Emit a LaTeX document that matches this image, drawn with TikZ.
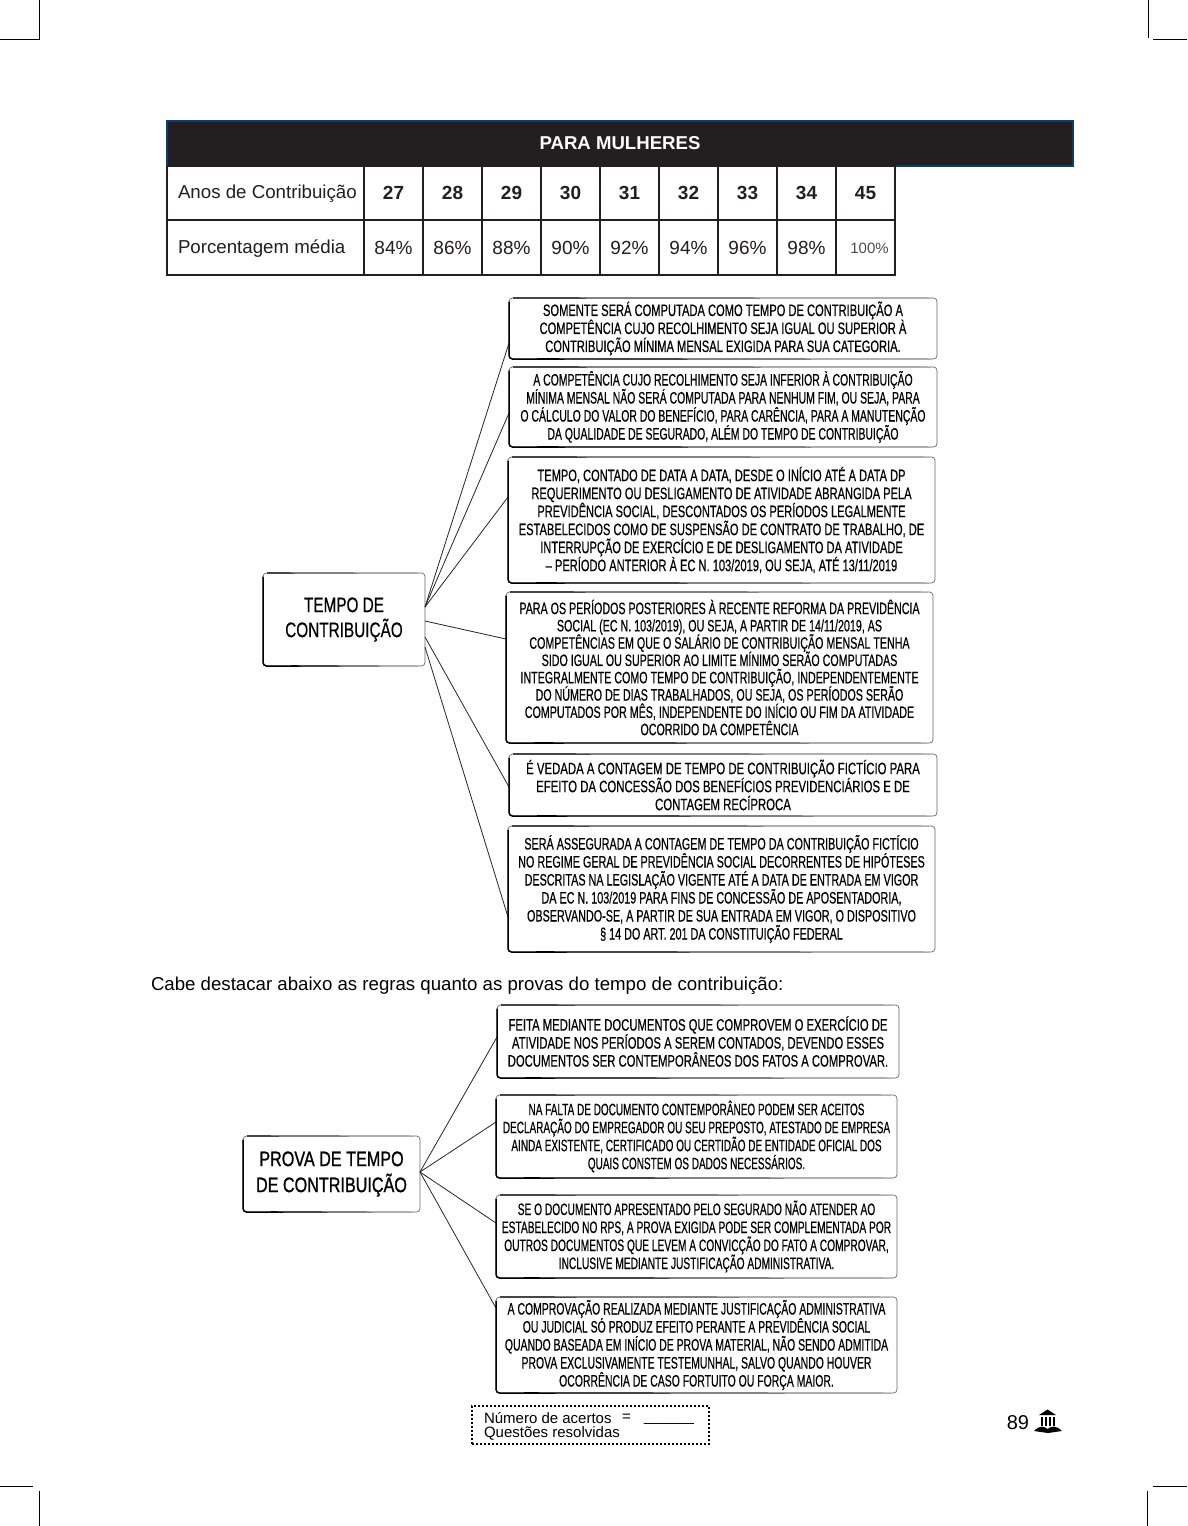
\documentclass[tikz,border=0pt]{standalone}
\usepackage{fontspec}
\usetikzlibrary{calc}
\setmainfont{Liberation Sans}
\definecolor{tblack}{HTML}{231F20}
\definecolor{tblue}{HTML}{0B3C78}
\tikzset{
  x=1pt,y=-1pt,
  boxbase/.style={draw=black!60,line width=.7pt,rounded corners=3.5pt,fill=white,inner sep=0pt,outer sep=0pt,align=center,text=black},
  comicbox/.style={boxbase,font={\fontspec[FakeStretch=#1,FakeBold=.4]{Liberation Sans}\fontsize{16.5}{18}\selectfont}},
  rootbox/.style={boxbase,font={\fontspec[FakeStretch=#1,FakeBold=.5]{Liberation Sans}\fontsize{21}{25}\selectfont}},
  link/.style={draw=black!85,line width=.8pt},
  cell/.style={draw=tblack,line width=2pt,inner sep=0pt,outer sep=0pt,align=center,font=\fontsize{19}{22}\selectfont,text=tblack},
  yearcell/.style={cell,minimum width=59pt,minimum height=54pt,font=\bfseries\fontsize{19}{22}\selectfont},
  pctcell/.style={cell,minimum width=59pt,minimum height=55pt},
  plain/.style={inner sep=0pt,outer sep=0pt,text=black},
  crop/.style={draw=black,line width=1pt},
  edge/.style={draw=black,line width=1.5pt,rounded corners=3.5pt,line cap=round}
}
\begin{document}
\begin{tikzpicture}
\useasboundingbox (0,0) rectangle (1187,1526);
\fill[white] (0,0) rectangle (1187,1526);
% crop marks
\draw[crop] (39,0)--(39,39)--(0,39);
\draw[crop] (1148,0)--(1148,38) (1153,39)--(1187,39);
\draw[crop] (39,1526)--(39,1491) (0,1486)--(33,1486);
\draw[crop] (1147,1526)--(1147,1491) (1153,1486)--(1187,1486);
% table
\node[draw=tblue,fill=tblack,line width=2pt,minimum width=906pt,minimum height=45pt,inner sep=0pt,outer sep=0pt,text=white,font=\bfseries\fontsize{18.6}{22}\selectfont] (head) at (620,143.5) {PARA MULHERES};
\node[cell,minimum width=197pt,minimum height=54pt] (anos) at (265.5,193) {};
\node[cell,minimum width=197pt,minimum height=55pt] (porc) at (265.5,247.5) {};
\node[plain,anchor=west,text=tblack,font=\fontsize{18.7}{22}\selectfont] (anost) at (178,194) {Anos de Contribuição};
\node[plain,anchor=west,text=tblack,font=\fontsize{18.7}{22}\selectfont] (porct) at (178,249) {Porcentagem média};
\foreach \n/\p [count=\i from 0] in {27/84,28/86,29/88,30/90,31/92,32/94,33/96,34/98}{
  \node[yearcell] (y\n) at ({393.5+59*\i},193) {\n};
  \node[pctcell] (p\n) at ({393.5+59*\i},247.5) {\p\%};
}
\node[yearcell] (y45) at (865.5,193) {45};
\node[pctcell] (p45) at (865.5,247.5) {};
\node[plain,text=black!70,font=\fontsize{15}{18}\selectfont] (t100) at (869.5,248) {100\%};
% first map
\node[rootbox=.73,minimum width=162pt,minimum height=93pt] (t) at (344,619.5) {TEMPO DE\\CONTRIBUIÇÃO};
\node[comicbox=.675,minimum width=428pt,minimum height=61pt] (b1) at (723,328.5) {SOMENTE SERÁ COMPUTADA COMO TEMPO DE CONTRIBUIÇÃO A\\COMPETÊNCIA CUJO RECOLHIMENTO SEJA IGUAL OU SUPERIOR À\\CONTRIBUIÇÃO MÍNIMA MENSAL EXIGIDA PARA SUA CATEGORIA.};
\node[comicbox=.633,minimum width=428pt,minimum height=80pt] (b2) at (723,407) {A COMPETÊNCIA CUJO RECOLHIMENTO SEJA INFERIOR À CONTRIBUIÇÃO\\MÍNIMA MENSAL NÃO SERÁ COMPUTADA PARA NENHUM FIM, OU SEJA, PARA\\O CÁLCULO DO VALOR DO BENEFÍCIO, PARA CARÊNCIA, PARA A MANUTENÇÃO\\DA QUALIDADE DE SEGURADO, ALÉM DO TEMPO DE CONTRIBUIÇÃO};
\node[comicbox=.672,minimum width=427pt,minimum height=126pt] (b3) at (721.5,520) {TEMPO, CONTADO DE DATA A DATA, DESDE O INÍCIO ATÉ A DATA DP\\REQUERIMENTO OU DESLIGAMENTO DE ATIVIDADE ABRANGIDA PELA\\PREVIDÊNCIA SOCIAL, DESCONTADOS OS PERÍODOS LEGALMENTE\\ESTABELECIDOS COMO DE SUSPENSÃO DE CONTRATO DE TRABALHO, DE\\INTERRUPÇÃO DE EXERCÍCIO E DE DESLIGAMENTO DA ATIVIDADE\\– PERÍODO ANTERIOR À EC N. 103/2019, OU SEJA, ATÉ 13/11/2019};
\node[comicbox=.648,minimum width=427pt,minimum height=151pt] (b4) at (719.5,667.5) {PARA OS PERÍODOS POSTERIORES À RECENTE REFORMA DA PREVIDÊNCIA\\[-.7pt]SOCIAL (EC N. 103/2019), OU SEJA, A PARTIR DE 14/11/2019, AS\\[-.7pt]COMPETÊNCIAS EM QUE O SALÁRIO DE CONTRIBUIÇÃO MENSAL TENHA\\[-.7pt]SIDO IGUAL OU SUPERIOR AO LIMITE MÍNIMO SERÃO COMPUTADAS\\[-.7pt]INTEGRALMENTE COMO TEMPO DE CONTRIBUIÇÃO, INDEPENDENTEMENTE\\[-.7pt]DO NÚMERO DE DIAS TRABALHADOS, OU SEJA, OS PERÍODOS SERÃO\\[-.7pt]COMPUTADOS POR MÊS, INDEPENDENTE DO INÍCIO OU FIM DA ATIVIDADE\\[-.7pt]OCORRIDO DA COMPETÊNCIA};
\node[comicbox=.69,minimum width=428pt,minimum height=62pt] (b5) at (723,785) {É VEDADA A CONTAGEM DE TEMPO DE CONTRIBUIÇÃO FICTÍCIO PARA\\EFEITO DA CONCESSÃO DOS BENEFÍCIOS PREVIDENCIÁRIOS E DE\\CONTAGEM RECÍPROCA};
\node[comicbox=.654,minimum width=427pt,minimum height=126pt] (b6) at (721.5,889) {SERÁ ASSEGURADA A CONTAGEM DE TEMPO DA CONTRIBUIÇÃO FICTÍCIO\\NO REGIME GERAL DE PREVIDÊNCIA SOCIAL DECORRENTES DE HIPÓTESES\\DESCRITAS NA LEGISLAÇÃO VIGENTE ATÉ A DATA DE ENTRADA EM VIGOR\\DA EC N. 103/2019 PARA FINS DE CONCESSÃO DE APOSENTADORIA,\\OBSERVANDO-SE, A PARTIR DE SUA ENTRADA EM VIGOR, O DISPOSITIVO\\§ 14 DO ART. 201 DA CONSTITUIÇÃO FEDERAL};
\draw[link] ([yshift=12.5pt]t.east) -- ([yshift=-14.5pt]b1.west);
\draw[link] ([yshift=12.5pt]t.east) -- ([yshift=-6pt]b2.west);
\draw[link] ([yshift=12.5pt]t.east) -- ([yshift=23pt]b3.west);
\draw[link] ([yshift=-1.5pt]t.east) -- ([yshift=28.5pt]b4.west);
\draw[link] ([yshift=-17.5pt]t.east) -- ([yshift=-2pt]b5.west);
\draw[link] ([yshift=-27.5pt]t.east) -- ([yshift=-28pt]b6.west);
% caption
\node[plain,anchor=west,font=\fontsize{18.65}{22}\selectfont] (cap) at (151,986) {Cabe destacar abaixo as regras quanto as provas do tempo de contribuição:};
% second map
\node[rootbox=.77,font={\fontspec[FakeStretch=.77,FakeBold=1]{Liberation Sans}\fontsize{21}{26}\selectfont},minimum width=177pt,minimum height=76pt] (p) at (331.5,1174) {PROVA DE TEMPO\\DE CONTRIBUIÇÃO};
\node[comicbox=.684,minimum width=402pt,minimum height=73pt] (c1) at (698,1041.5) {FEITA MEDIANTE DOCUMENTOS QUE COMPROVEM O EXERCÍCIO DE\\ATIVIDADE NOS PERÍODOS A SEREM CONTADOS, DEVENDO ESSES\\DOCUMENTOS SER CONTEMPORÂNEOS DOS FATOS A COMPROVAR.};
\node[comicbox=.606,minimum width=401pt,minimum height=83pt] (c2) at (696.5,1136.5) {NA FALTA DE DOCUMENTO CONTEMPORÂNEO PODEM SER ACEITOS\\DECLARAÇÃO DO EMPREGADOR OU SEU PREPOSTO, ATESTADO DE EMPRESA\\AINDA EXISTENTE, CERTIFICADO OU CERTIDÃO DE ENTIDADE OFICIAL DOS\\QUAIS CONSTEM OS DADOS NECESSÁRIOS.};
\node[comicbox=.618,minimum width=401pt,minimum height=83pt] (c3) at (696.5,1236.5) {SE O DOCUMENTO APRESENTADO PELO SEGURADO NÃO ATENDER AO\\ESTABELECIDO NO RPS, A PROVA EXIGIDA PODE SER COMPLEMENTADA POR\\OUTROS DOCUMENTOS QUE LEVEM A CONVICÇÃO DO FATO A COMPROVAR,\\INCLUSIVE MEDIANTE JUSTIFICAÇÃO ADMINISTRATIVA.};
\node[comicbox=.633,minimum width=401pt,minimum height=96pt] (c4) at (696.5,1345) {A COMPROVAÇÃO REALIZADA MEDIANTE JUSTIFICAÇÃO ADMINISTRATIVA\\OU JUDICIAL SÓ PRODUZ EFEITO PERANTE A PREVIDÊNCIA SOCIAL\\QUANDO BASEADA EM INÍCIO DE PROVA MATERIAL, NÃO SENDO ADMITIDA\\PROVA EXCLUSIVAMENTE TESTEMUNHAL, SALVO QUANDO HOUVER\\OCORRÊNCIA DE CASO FORTUITO OU FORÇA MAIOR.};
\draw[link] ([yshift=2pt]p.east) -- ([yshift=4.5pt]c1.west);
\draw[link] ([yshift=2pt]p.east) -- ([yshift=14.5pt]c2.west);
\draw[link] ([yshift=2pt]p.east) -- ([yshift=13.5pt]c3.west);
\draw[link] ([yshift=2pt]p.east) -- ([yshift=37pt]c4.west);
% heavier brush-like edges of the hand-drawn boxes: left side and tapered bottom and top
\foreach \n in {t,b1,b2,b3,b4,b5,b6,p,c1,c2,c3,c4}{
  \draw[edge] ($(\n.north west)+(0,4)$) -- (\n.south west) -- ($(\n.south west)+(30,0)$);
  \fill[black] ($(\n.south west)+(28,-.8)$) -- ($(\n.south east)+(-6,0)$) -- ($(\n.south west)+(28,.8)$) -- cycle;
  \fill[black] ($(\n.north west)+(4,-.6)$) -- ($(\n.north east)+(-6,0)$) -- ($(\n.north west)+(4,.6)$) -- cycle;
}
% footer
\node[draw=black,dotted,line width=2pt,minimum width=237pt,minimum height=38pt,inner sep=0pt,outer sep=0pt] (score) at (590.5,1425) {};
\node[plain,anchor=west,font=\fontsize{15}{17}\selectfont] (acertos) at (484,1418) {Número de acertos};
\node[plain,anchor=west,font=\fontsize{15}{17}\selectfont] (igual) at (622,1418) {=};
\node[plain,anchor=west,font=\fontsize{15}{17}\selectfont] (traco) at (644,1423) {\_\_\_\_\_\_};
\node[plain,anchor=west,font=\fontsize{15}{17}\selectfont] (quest) at (484,1433) {Questões resolvidas};
\node[plain,anchor=east,font=\fontsize{20}{22}\selectfont] (page) at (1029,1423) {89};
% icon
\fill[black] (1047.5,1409.5) -- (1056,1415) -- (1039,1415) -- cycle;
\foreach \cx in {1041,1045,1049,1053}{\fill[black] (\cx,1416.5) rectangle +(2,9);}
\fill[black] (1034,1431) .. controls (1040,1425) and (1044,1426) .. (1047.5,1429) .. controls (1051,1426) and (1056,1425) .. (1062,1431) -- (1048,1433) -- cycle;
\end{tikzpicture}
\end{document}
